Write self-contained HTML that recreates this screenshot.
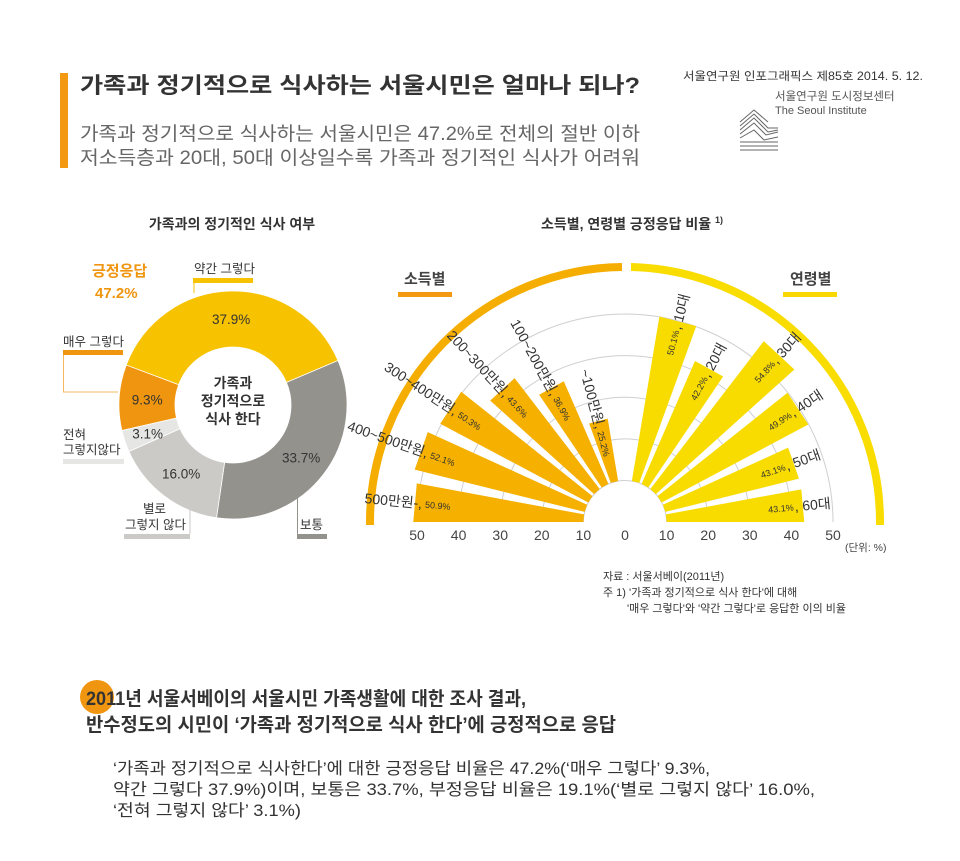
<!DOCTYPE html>
<html><head><meta charset="utf-8">
<style>
body{margin:0;background:#fff;}
svg{display:block;font-family:"Liberation Sans","Noto Sans CJK KR",sans-serif;}
</style></head>
<body>
<svg width="960" height="861" viewBox="0 0 960 861" xmlns="http://www.w3.org/2000/svg">
<rect x="60" y="73" width="8" height="95" fill="#f39a12"/>
<text x="80" y="93" font-size="22" font-weight="bold" fill="#333" textLength="560" lengthAdjust="spacingAndGlyphs">가족과 정기적으로 식사하는 서울시민은 얼마나 되나?</text>
<text x="80" y="140" font-size="19" fill="#666" textLength="560" lengthAdjust="spacingAndGlyphs">가족과 정기적으로 식사하는 서울시민은 47.2%로 전체의 절반 이하</text>
<text x="80" y="164" font-size="19" fill="#666" textLength="560" lengthAdjust="spacingAndGlyphs">저소득층과 20대, 50대 이상일수록 가족과 정기적인 식사가 어려워</text>
<text x="683" y="80" font-size="11.5" fill="#333" textLength="240" lengthAdjust="spacingAndGlyphs">서울연구원 인포그래픽스 제85호 2014. 5. 12.</text>
<text x="775" y="100" font-size="11.5" fill="#555">서울연구원 도시정보센터</text>
<text x="775" y="114" font-size="11" fill="#555">The Seoul Institute</text>
<g stroke="#666" stroke-width="1" fill="none">
<path d="M740 122 l14 -12 l14 12"/><path d="M740 126 l14 -12 l14 14 l10 0"/><path d="M740 130 l14 -12 l14 14 l10 -2"/><path d="M740 134 l14 -11 l12 12 l12 -3"/><path d="M740 138 l14 -8 l10 10 l14 -3"/><path d="M740 142 l38 0"/><path d="M740 146 l38 0"/><path d="M740 150 l38 0"/>
</g>

<text x="232" y="229" font-size="14" font-weight="bold" fill="#333" text-anchor="middle">가족과의 정기적인 식사 여부</text>
<g id="donut"></g>
<g font-size="14" font-weight="bold" fill="#333" text-anchor="middle">
<text x="233" y="388">가족과</text><text x="233" y="406">정기적으로</text><text x="233" y="424">식사 한다</text>
</g>
<g font-size="12.5" fill="#333">
<text x="92" y="276" font-size="15" font-weight="bold" fill="#f0950f">긍정응답</text>
<text x="95" y="298" font-size="15" font-weight="bold" fill="#f0950f">47.2%</text>
<text x="194" y="273">약간 그렇다</text>
<rect x="193" y="278" width="60" height="5" fill="#f7c200"/>
<line x1="194" y1="283" x2="194" y2="293" stroke="#f7c200"/>
<text x="63" y="346">매우 그렇다</text>
<rect x="63" y="350" width="60" height="5" fill="#f0950f"/>
<polyline points="63.5,355 63.5,392 118,392" fill="none" stroke="#f5b860"/>
<text x="63" y="439">전혀</text><text x="63" y="454">그렇지않다</text>
<rect x="63" y="459" width="61" height="5" fill="#e6e6e4"/>
<text x="143" y="513">별로</text><text x="125" y="529">그렇지 않다</text>
<rect x="124" y="534" width="66" height="5" fill="#cbcac6"/>
<line x1="190" y1="534" x2="190" y2="510" stroke="#cbcac6"/>
<text x="300" y="529">보통</text>
<rect x="297" y="534" width="30" height="5" fill="#94928d"/>
<line x1="297.5" y1="534" x2="297.5" y2="490" stroke="#94928d"/>
</g>

<text x="632" y="229" font-size="14" font-weight="bold" fill="#333" text-anchor="middle">소득별, 연령별 긍정응답 비율 <tspan font-size="9" dy="-6">1)</tspan></text>
<text x="404" y="284" font-size="15" font-weight="bold" fill="#444">소득별</text>
<rect x="398" y="292" width="54" height="5" fill="#f39a12"/>
<text x="790" y="284" font-size="15" font-weight="bold" fill="#444">연령별</text>
<rect x="783" y="292" width="54" height="5" fill="#f8d800"/>
<g id="radial"></g>
<text x="845" y="551" font-size="10.5" fill="#444">(단위: %)</text>

<g font-size="11" fill="#333">
<text x="603" y="580">자료 : 서울서베이(2011년)</text>
<text x="603" y="596">주 1) '가족과 정기적으로 식사 한다'에 대해</text>
<text x="627" y="612">'매우 그렇다'와 '약간 그렇다'로 응답한 이의 비율</text>
</g>

<circle cx="97" cy="697" r="17" fill="#f0950f"/>
<text x="86" y="705" font-size="19" font-weight="bold" fill="#333" textLength="440" lengthAdjust="spacingAndGlyphs">2011년 서울서베이의 서울시민 가족생활에 대한 조사 결과,</text>
<text x="86" y="731" font-size="19" font-weight="bold" fill="#333" textLength="530" lengthAdjust="spacingAndGlyphs">반수정도의 시민이 ‘가족과 정기적으로 식사 한다’에 긍정적으로 응답</text>
<g font-size="16.5" fill="#333">
<text x="113" y="774" textLength="597" lengthAdjust="spacingAndGlyphs">‘가족과 정기적으로 식사한다’에 대한 긍정응답 비율은 47.2%(‘매우 그렇다’ 9.3%,</text>
<text x="113" y="795" textLength="702" lengthAdjust="spacingAndGlyphs">약간 그렇다 37.9%)이며, 보통은 33.7%, 부정응답 비율은 19.1%(‘별로 그렇지 않다’ 16.0%,</text>
<text x="113" y="816" textLength="188" lengthAdjust="spacingAndGlyphs">‘전혀 그렇지 않다’ 3.1%)</text>
</g>
</svg>
<script>
const NS='http://www.w3.org/2000/svg';
// donut data
const donutCategories=['보통','별로 그렇지 않다','전혀 그렇지 않다','매우 그렇다','약간 그렇다'];
const donutValues=[33.7,16.0,3.1,9.3,37.9];
const donutColors=['#94928d','#cbcac6','#e6e6e4','#f0950f','#f7c200'];
const donutLabels=['33.7%','16.0%','3.1%','9.3%','37.9%'];
// radial data
const incomeCategories=['500만원-','400~500만원','300~400만원','200~300만원','100~200만원','~100만원'];
const incomeValues=[50.9,52.1,50.3,43.6,36.9,25.2];
const ageCategories=['60대','50대','40대','30대','20대','10대'];
const ageValues=[43.1,43.1,49.9,54.8,42.2,50.1];
const axisTicks=[50,40,30,20,10,0,10,20,30,40,50];

function mk(tag,attrs,parent){const e=document.createElementNS(NS,tag);for(const k in attrs)e.setAttribute(k,attrs[k]);parent.appendChild(e);return e;}

// Donut
(function(){
 const g=document.getElementById('donut');
 const cx=233,cy=405,R=114,r=58,start=67;
 const total=donutValues.reduce((a,b)=>a+b,0);
 let a=start;
 const pt=(ang,rad)=>{const t=(ang-90)*Math.PI/180;return [cx+rad*Math.cos(t),cy+rad*Math.sin(t)];};
 donutValues.forEach((v,i)=>{
  const span=v/total*360,a1=a+span,lg=span>180?1:0;
  const p0=pt(a,R),p1=pt(a1,R),q1=pt(a1,r),q0=pt(a,r);
  const p=mk('path',{d:`M${p0} A${R},${R} 0 ${lg} 1 ${p1} L${q1} A${r},${r} 0 ${lg} 0 ${q0}Z`,fill:donutColors[i],stroke:'#fff','stroke-width':0.8},g);
  
  
  const lp=pt(a+span/2,(R+r)/2+(v<5?4:0));
  const t=mk('text',{x:lp[0],y:lp[1]+5,'text-anchor':'middle','font-size':13.5,fill:'#333'},g);
  
  
  t.textContent=donutLabels[i];
  a=a1;
 });
})();

// Radial
(function(){
 const g=document.getElementById('radial');
 const cx=625,cy=522,k=4.16,inner=10,slot=14,w=10.5;
 const rad=v=>v*k;
 [10,20,30,40,50].forEach(v=>{
  const R=rad(v);
  const c=mk('path',{d:`M${cx-R},${cy} A${R},${R} 0 0 1 ${cx+R},${cy}`,fill:'none',stroke:'#cfcfcf','stroke-width':1},g);
  
  
 });
 const AR=255;
 const a1=mk('path',{d:`M${cx-AR},${cy+3} L${cx-AR},${cy} A${AR},${AR} 0 0 1 ${cx-3},${cy-AR}`,fill:'none',stroke:'#f5ad00','stroke-width':8},g);
 
 
 const a2=mk('path',{d:`M${cx+6},${cy-AR} A${AR},${AR} 0 0 1 ${cx+AR},${cy} L${cx+AR},${cy+3}`,fill:'none',stroke:'#f9dc00','stroke-width':8},g);
 
 
 const P=(deg,R)=>{const t=deg*Math.PI/180;return [cx+R*Math.cos(t),cy-R*Math.sin(t)];};
 function bars(vals,cats,side,color,nm){
  vals.forEach((v,i)=>{
   const b0=i*slot,b1=b0+w,mid=b0+w/2;
   const d0=side<0?180-b0:b0,d1=side<0?180-b1:b1;
   const ri=rad(inner),ro=rad(v);
   const pts=[P(d0,ri),P(d0,ro),P(d1,ro),P(d1,ri)].map(p=>p.join(',')).join(' ');
   const poly=mk('polygon',{points:pts,fill:color},g);
   
   
   const tg=mk('g',{transform:side<0?`translate(${cx},${cy}) rotate(${mid})`:`translate(${cx},${cy}) rotate(${-mid})`},g);
   
   
   if(side<0){
    const n=mk('text',{x:-ro+8,y:5,'text-anchor':'end','font-size':14,fill:'#333'},tg);n.textContent=cats[i]+',';
    const p=mk('text',{x:-ro+11,y:4,'font-size':9,fill:'#333'},tg);p.textContent=v.toFixed(1)+'%';
   }else{
    const p=mk('text',{x:ro-10,y:4,'text-anchor':'end','font-size':9,fill:'#333'},tg);p.textContent=v.toFixed(1)+'%';
    const n=mk('text',{x:ro-9,y:5,'font-size':14,fill:'#333'},tg);n.textContent=', '+cats[i];
   }
  });
 }
 bars(incomeValues,incomeCategories,-1,'#f5b000','income');
 bars(ageValues,ageCategories,1,'#f8dc00','age');
 axisTicks.forEach((v,i)=>{
  const x=i<5?cx-rad(v):cx+rad(v);
  const t=mk('text',{x:x,y:540,'text-anchor':'middle','font-size':14,fill:'#444'},g);
  
  
  t.textContent=v;
 });
})();
</script>
</body></html>
